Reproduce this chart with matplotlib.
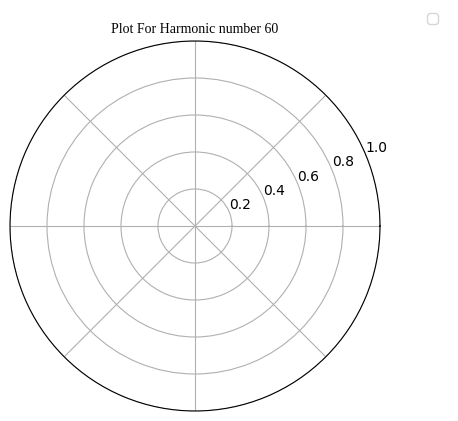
import matplotlib
matplotlib.use("Agg")
import matplotlib.pyplot as plt
import warnings
warnings.filterwarnings("ignore")

title = "Plot For Harmonic number 60"
r_ticks = [0.2, 0.4, 0.6, 0.8, 1.0]
r_tick_labels = ["0.2", "0.4", "0.6", "0.8", "1.0"]
theta_values = []
r_values = []

fig = plt.figure(figsize=(4.58, 4.21), dpi=100)
ax = fig.add_axes([10/458, 10/421, 370/458, 370/421], projection="polar")
ax.plot(theta_values, r_values)
ax.set_ylim(0, 1.0)
ax.set_yticks(r_ticks)
ax.set_yticklabels(r_tick_labels, fontsize=10)
ax.set_xticklabels([])
ax.grid(True, color="#b0b0b0", linewidth=0.8)
ax.set_title(title, fontsize=10, family="Liberation Serif", pad=6)
ax.legend(loc="upper right", bbox_to_anchor=(445/458, 1 - 6/421), bbox_transform=fig.transFigure)
fig.savefig("out.png", dpi=100)
